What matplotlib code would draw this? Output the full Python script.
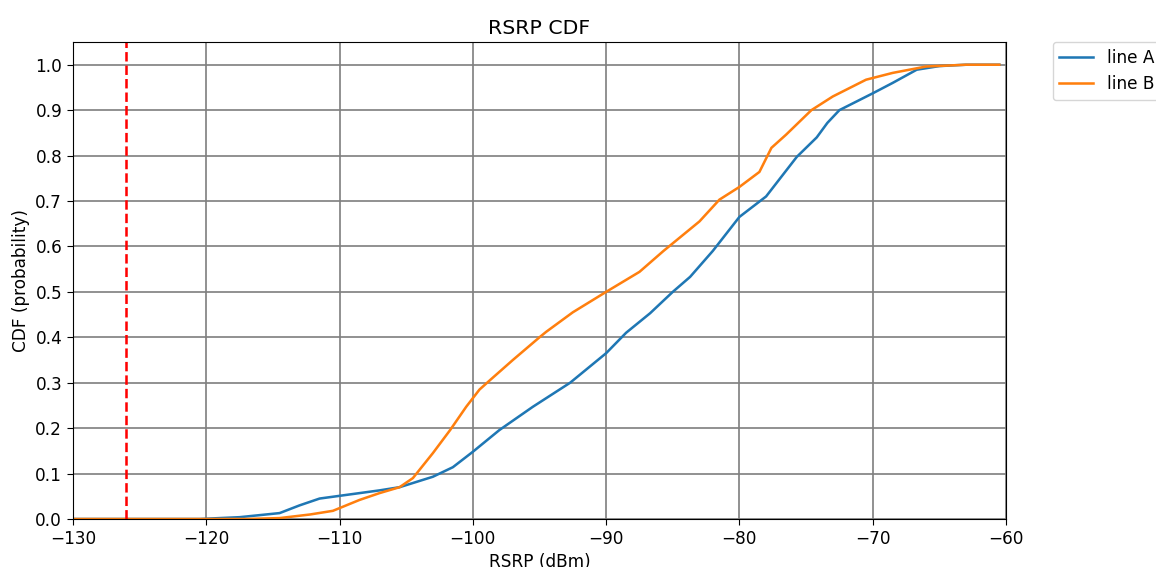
import numpy as np
import matplotlib.pyplot as plt

# RSRP values (dBm) and CDF
rsrp_a = [-130, -120.5, -117.5, -114.5, -113, -111.5, -110, -107, -105.5, -103, -101.5,
          -100, -98, -95.5, -92.7, -90, -88.5, -86.7, -85, -83.7, -82, -80, -78,
          -75.7, -74.2, -73.4, -72.5, -70, -68.5, -66.7, -65, -63, -60.5]
cdf_a = [0, 0, 0.004, 0.013, 0.03, 0.045, 0.051, 0.063, 0.07, 0.093, 0.114,
         0.148, 0.196, 0.247, 0.30, 0.365, 0.41, 0.453, 0.50, 0.533, 0.59, 0.665, 0.71,
         0.797, 0.84, 0.872, 0.90, 0.937, 0.96, 0.989, 0.997, 1.0, 1.0]

rsrp_b = [-130, -117, -114.5, -112.2, -110.5, -110, -108.5, -107, -105.5, -104.5, -103,
          -101.7, -100.5, -99.5, -98.7, -97, -95, -94.5, -92.5, -90, -87.5, -85.7,
          -83, -81.5, -80, -78.5, -77.6, -76.5, -74.6, -73, -70.5, -68.5, -66, -63,
          -60.5]
cdf_b = [0, 0, 0.002, 0.01, 0.018, 0.024, 0.042, 0.057, 0.07, 0.09, 0.145,
         0.196, 0.247, 0.285, 0.306, 0.35, 0.40, 0.412, 0.455, 0.50, 0.544, 0.59,
         0.655, 0.703, 0.731, 0.764, 0.817, 0.846, 0.90, 0.93, 0.967, 0.982, 0.996, 1.0,
         1.0]

threshold = -126

s = 1.22  # the reference looks rendered a bit larger than 100 dpi
plt.rcParams['font.size'] = 10 * s
plt.rcParams['xtick.major.size'] = 3.5 * s
plt.rcParams['ytick.major.size'] = 3.5 * s

fig = plt.figure(figsize=(11.56, 5.67), dpi=100)
ax = fig.add_axes([73 / 1156, 48 / 567, 933 / 1156, 477 / 567])

ax.plot(rsrp_a, cdf_a, label='line A', lw=1.5 * s)
ax.plot(rsrp_b, cdf_b, label='line B', lw=1.5 * s)
ax.axvline(threshold, color='red', linestyle='--', lw=1.5 * s)

ax.set_xlim(-130, -60)
ax.set_ylim(0, 1.05)
ax.set_yticks(np.arange(0, 1.01, 0.1))
ax.grid(True, color='gray', linewidth=1 * s)
ax.set_axisbelow(True)
ax.set_title('RSRP CDF', fontsize=12 * s)
ax.set_xlabel('RSRP (dBm)')
ax.set_ylabel('CDF (probability)')
ax.legend(bbox_to_anchor=(1.05, 1), loc='upper left', borderaxespad=0.)

plt.savefig('out.png', dpi=100)
